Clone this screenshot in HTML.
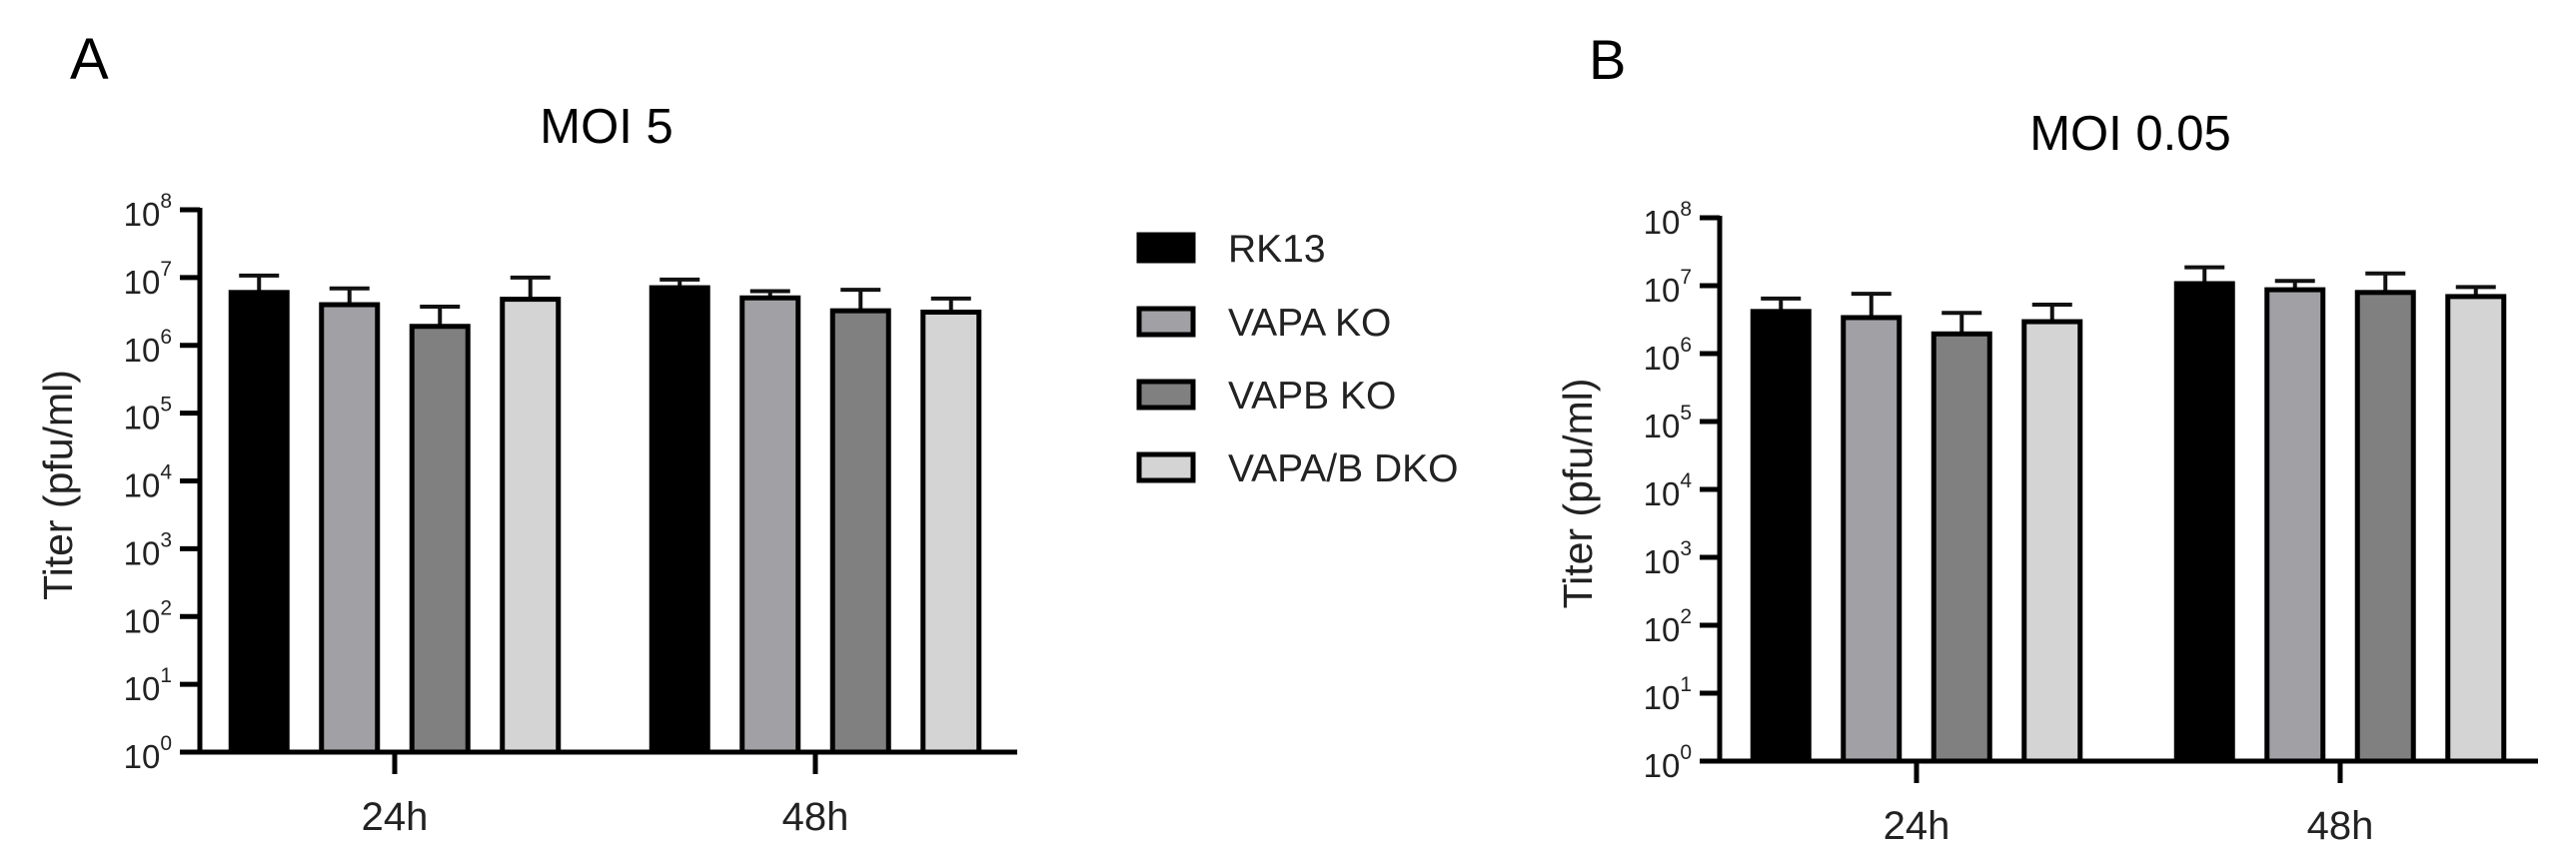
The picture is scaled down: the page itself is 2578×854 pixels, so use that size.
<!DOCTYPE html>
<html><head><meta charset="utf-8"><style>
html,body{margin:0;padding:0;background:#fff;}
svg{display:block;font-family:"Liberation Sans",sans-serif;}
</style></head><body>
<svg id="fig" width="2578" height="854" viewBox="0 0 2578 854" xmlns="http://www.w3.org/2000/svg">
<text x="70" y="79" font-size="58">A</text>
<text x="1590" y="79" font-size="56">B</text>
<g id="legend"></g>
<g id="panelA"></g>
<g id="panelB"></g>
</svg>
<script>
const groups = ["24h", "48h"];
const seriesNames = ["RK13", "VAPA KO", "VAPB KO", "VAPA/B DKO"];
const seriesColors = ["#000000", "#a1a0a5", "#808080", "#d4d4d4"];
const yTickExps = [0,1,2,3,4,5,6,7,8];
// log10 values [group][series]
const moi5Values = [[6.78, 6.60, 6.28, 6.68], [6.85, 6.70, 6.51, 6.49]];
const moi5Errors = [[7.03, 6.84, 6.57, 7.00], [6.97, 6.80, 6.82, 6.69]];
const moi005Values = [[6.62, 6.53, 6.29, 6.47], [7.03, 6.94, 6.90, 6.84]];
const moi005Errors = [[6.81, 6.88, 6.60, 6.72], [7.27, 7.07, 7.18, 6.98]];

const NS = "http://www.w3.org/2000/svg";
function mk(tag, attrs, parent){const e=document.createElementNS(NS,tag);for(const k in attrs)e.setAttribute(k,attrs[k]);parent.appendChild(e);return e;}

function drawPanel(g, cfg, values, errors){
  const yScale = v => cfg.y0 - (v - 0) * (cfg.y0 - cfg.y8) / 8;
  const xGroup = i => cfg.gc[i];
  const bw = 56, pitch = 90.5;
  const t = mk("text",{x:cfg.titleX,y:cfg.titleY,"font-size":49,"text-anchor":"middle"},g);
  
  
  t.textContent = cfg.title;
  values.forEach((grp,gi)=>{
    grp.forEach((v,si)=>{
      const cx = xGroup(gi) + (si-1.5)*pitch;
      const top = yScale(v);
      const eb = mk("path",{d:`M${cx} ${top} V${yScale(errors[gi][si])} M${cx-20} ${yScale(errors[gi][si])} H${cx+20}`,stroke:"#111","stroke-width":4,fill:"none"},g);
      
      
      const r = mk("rect",{x:cx-bw/2,y:top,width:bw,height:cfg.y0-top,fill:seriesColors[si],stroke:"#000","stroke-width":5},g);
      
      
    });
  });
  const ya = mk("line",{x1:cfg.ax,y1:cfg.y8-2,x2:cfg.ax,y2:cfg.y0+2,stroke:"#000","stroke-width":5},g);
  
  
  yTickExps.forEach(e=>{
    const y = yScale(e);
    const tk = mk("line",{x1:cfg.ax-20,y1:y,x2:cfg.ax,y2:y,stroke:"#000","stroke-width":5},g);
    
    
    const lb = mk("text",{x:cfg.ax-28,y:y+16,"font-size":33,"text-anchor":"end",fill:"#222"},g);
    
    
    lb.appendChild(document.createTextNode("10"));
    const sp = mk("tspan",{"font-size":21,dy:-18},lb);
    sp.textContent = String(e);
  });
  const xa = mk("line",{x1:cfg.ax-20,y1:cfg.y0,x2:cfg.xEnd,y2:cfg.y0,stroke:"#000","stroke-width":5},g);
  
  
  groups.forEach((gname,gi)=>{
    const x = xGroup(gi);
    const tk = mk("line",{x1:x,y1:cfg.y0,x2:x,y2:cfg.y0+22,stroke:"#000","stroke-width":5},g);
    
    
    const lb = mk("text",{x:x,y:cfg.y0+78,"font-size":40,"text-anchor":"middle",fill:"#222"},g);
    
    
    lb.textContent = gname;
  });
  const yt = mk("text",{x:0,y:0,"font-size":41,"text-anchor":"middle",fill:"#222",transform:`translate(${cfg.ax-128},${(cfg.y0+cfg.y8)/2+4}) rotate(-90)`},g);
  
  
  yt.textContent = "Titer (pfu/ml)";
}

drawPanel(document.getElementById("panelA"),
  {title:"MOI 5",titleX:607,titleY:143,ax:200,y8:210,y0:753,xEnd:1018,gc:[395,816]},
  moi5Values, moi5Errors);
drawPanel(document.getElementById("panelB"),
  {title:"MOI 0.05",titleX:2132,titleY:150,ax:1721,y8:218,y0:762,xEnd:2540,gc:[1918,2342]},
  moi005Values, moi005Errors);

const leg = document.getElementById("legend");
const legRowsY = [248, 322, 395, 468];
seriesNames.forEach((n,i)=>{
  const r = mk("rect",{x:1140,y:legRowsY[i]-13,width:54,height:26,fill:seriesColors[i],stroke:"#000","stroke-width":5},leg);
  
  
  const t = mk("text",{x:1229,y:legRowsY[i]+14,"font-size":39,fill:"#222"},leg);
  
  
  t.textContent = n;
});
</script>
</body></html>
